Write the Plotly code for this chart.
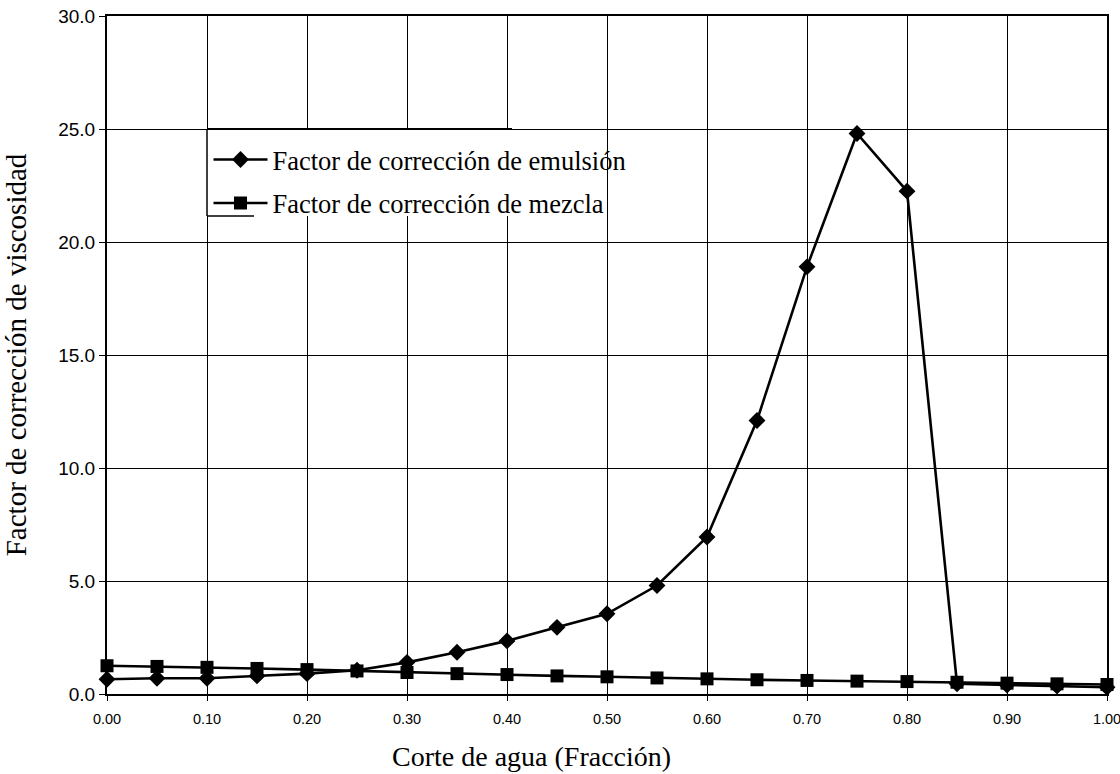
import plotly.graph_objects as go

x_vals = [0.00, 0.05, 0.10, 0.15, 0.20, 0.25, 0.30, 0.35, 0.40, 0.45, 0.50,
          0.55, 0.60, 0.65, 0.70, 0.75, 0.80, 0.85, 0.90, 0.95, 1.00]
emulsion = [0.65, 0.7, 0.7, 0.8, 0.9, 1.05, 1.4, 1.85, 2.35, 2.95, 3.55,
            4.8, 6.95, 12.1, 18.9, 24.8, 22.25, 0.45, 0.4, 0.35, 0.3]
mezcla = [1.25, 1.22, 1.18, 1.13, 1.08, 1.02, 0.95, 0.9, 0.86, 0.8, 0.76,
          0.71, 0.67, 0.63, 0.6, 0.57, 0.55, 0.52, 0.48, 0.45, 0.42]

x_ticks = [0.0, 0.1, 0.2, 0.3, 0.4, 0.5, 0.6, 0.7, 0.8, 0.9, 1.0]
x_ticklabels = ["0.00", "0.10", "0.20", "0.30", "0.40", "0.50", "0.60", "0.70", "0.80", "0.90", "1.00"]
y_ticks = [0, 5, 10, 15, 20, 25, 30]
y_ticklabels = ["0.0", "5.0", "10.0", "15.0", "20.0", "25.0", "30.0"]

serif = "Liberation Serif, Times New Roman, serif"
sans = "Liberation Sans Narrow, Arial Narrow, Liberation Sans, Arial, sans-serif"

fig = go.Figure()
fig.add_trace(go.Scatter(
    x=x_vals, y=emulsion, mode="lines+markers",
    name="Factor de corrección de emulsión", legendgroup="a",
    line=dict(color="black", width=2.6),
    marker=dict(symbol="diamond", size=13, color="black"),
    cliponaxis=False,
))
fig.add_trace(go.Scatter(
    x=x_vals, y=mezcla, mode="lines+markers",
    name="Factor de corrección de mezcla", legendgroup="b",
    line=dict(color="black", width=2.6),
    marker=dict(symbol="square", size=13, color="black"),
    cliponaxis=False,
))

# legend box: white panel over the grid, with left, top and short bottom edges
fig.add_shape(type="rect", xref="x", yref="y", x0=0.10, x1=0.405, y0=21.15, y1=25,
              fillcolor="white", line=dict(width=0), layer="between")
fig.add_shape(type="line", xref="x", yref="y", x0=0.10, x1=0.405, y0=25, y1=25,
              line=dict(color="black", width=2.2), layer="above")
fig.add_shape(type="line", xref="x", yref="y", x0=0.10, x1=0.10, y0=21.15, y1=25,
              line=dict(color="black", width=1.5), layer="above")
fig.add_shape(type="line", xref="x", yref="y", x0=0.10, x1=0.147, y0=21.15, y1=21.15,
              line=dict(color="black", width=1.5), layer="above")

# x axis title (offset to the left as in the original)
fig.add_annotation(text="Corte de agua (Fracción)", xref="paper", yref="paper",
                   x=0.424, y=0, yshift=-62, xanchor="center", yanchor="middle",
                   showarrow=False, font=dict(family=serif, size=28, color="black"))

fig.update_layout(
    width=1120, height=774,
    margin=dict(l=107, r=13, t=16, b=80, autoexpand=False),
    paper_bgcolor="white", plot_bgcolor="white",
    showlegend=True,
    legend=dict(
        x=0.1015, y=24.7 / 30, xanchor="left", yanchor="top",
        bgcolor="rgba(0,0,0,0)", borderwidth=0,
        font=dict(family=serif, size=26.5, color="black"),
        itemwidth=54, tracegroupgap=6,
    ),
    xaxis=dict(
        range=[0, 1], tickvals=x_ticks, ticktext=x_ticklabels,
        automargin=False, ticklabeloverflow="allow",
        showgrid=True, gridcolor="black", gridwidth=1.2,
        showline=True, linecolor="black", linewidth=2, mirror=True,
        zeroline=False, ticks="outside", ticklen=5, tickcolor="black",
        ticklabelstandoff=6,
        tickfont=dict(family=sans, size=14.5, color="black"),
    ),
    yaxis=dict(
        range=[0, 30], tickvals=y_ticks, ticktext=y_ticklabels,
        automargin=False,
        showgrid=True, gridcolor="black", gridwidth=1.2,
        showline=True, linecolor="black", linewidth=2, mirror=True,
        zeroline=False, ticks="outside", ticklen=6, tickcolor="black",
        tickfont=dict(family=sans, size=19, color="black"),
        title=dict(text="Factor de corrección de viscosidad", font=dict(family=serif, size=29, color="black"), standoff=34),
    ),
)

fig.write_html(
    "out.html",
    config={"displayModeBar": False},
    post_script="document.body.style.margin='0';document.body.style.overflow='hidden';",
)
